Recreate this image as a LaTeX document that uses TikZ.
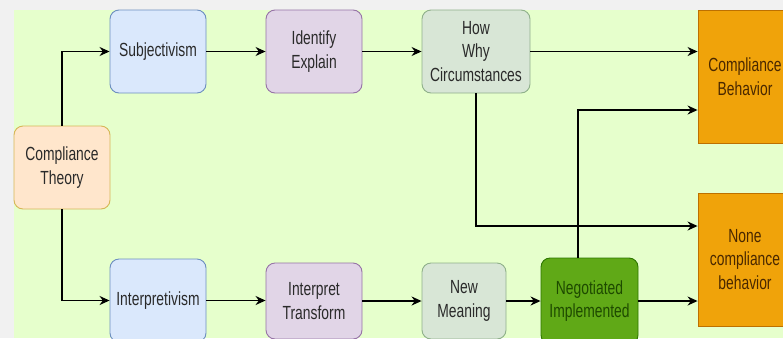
\documentclass[tikz,border=0pt]{standalone}
\usepackage{fontspec}
\setmainfont[FakeStretch=0.73]{Liberation Sans}
\usetikzlibrary{arrows.meta}
\definecolor{bggray}{HTML}{F1F1F1}
\definecolor{bggreen}{HTML}{E6FFCC}
\definecolor{thfill}{HTML}{FFE6CC}\definecolor{thdraw}{HTML}{D6B656}
\definecolor{blfill}{HTML}{DAE8FC}\definecolor{bldraw}{HTML}{6C8EBF}
\definecolor{pufill}{HTML}{E1D5E7}\definecolor{pudraw}{HTML}{9673A6}
\definecolor{gyfill}{HTML}{D8E6D6}\definecolor{gydraw}{HTML}{8FB08A}
\definecolor{gnfill}{HTML}{60A917}\definecolor{gndraw}{HTML}{2D7600}\definecolor{gntext}{HTML}{1E4A00}
\definecolor{orfill}{HTML}{F0A30A}\definecolor{ordraw}{HTML}{BD7000}\definecolor{ortext}{HTML}{4A2800}
\definecolor{txt}{HTML}{2A2A2A}
\tikzset{
  box/.style={draw, line width=0.9pt, rounded corners=9pt, align=center, inner sep=0pt,
    text=txt, font=\fontsize{19}{23.5}\selectfont},
  thbox/.style={box, fill=thfill, draw=thdraw},
  blbox/.style={box, fill=blfill, draw=bldraw},
  pubox/.style={box, fill=pufill, draw=pudraw},
  gybox/.style={box, fill=gyfill, draw=gydraw},
  gnbox/.style={box, fill=gnfill, draw=gndraw, text=gntext},
  orbox/.style={box, rounded corners=0pt, fill=orfill, draw=ordraw, text=ortext},
  arr/.style={line width=1.4pt, draw=black, -{Stealth[length=10pt,width=9pt]}}
}
\begin{document}
\begin{tikzpicture}[x=1pt,y=-1pt]
\clip (0,0) rectangle (783,338);
\fill[bggray] (0,0) rectangle (783,338);
\fill[bggreen] (14,10) rectangle (783,338);
% top row
\node[thbox, minimum width=96pt, minimum height=83pt] (theory) at (62,167.5) {Compliance\\Theory};
\node[blbox, minimum width=96pt, minimum height=83pt] (subj) at (158,51.5) {Subjectivism};
\node[pubox, minimum width=96pt, minimum height=83pt] (ident) at (314,51.5) {Identify\\Explain};
\node[gybox, minimum width=108pt, minimum height=83pt] (how) at (476,51.5) {How\\Why\\Circumstances};
\node[orbox, minimum width=94pt, minimum height=133pt] (cb) at (745,76.5) {Compliance\\Behavior};
% bottom row
\node[blbox, minimum width=96pt, minimum height=83pt] (interp) at (158,300.5) {Interpretivism};
\node[pubox, minimum width=96pt, minimum height=76pt] (intT) at (314,301) {Interpret\\Transform};
\node[gybox, minimum width=84pt, minimum height=76pt] (newm) at (464,301) {New\\Meaning};
\node[gnbox, minimum width=97pt, minimum height=86pt] (neg) at (589.5,301) {Negotiated\\Implemented};
\node[orbox, minimum width=94pt, minimum height=133pt] (none) at (745,259.5) {None\\compliance\\behavior};
% connectors
\draw[arr] (theory.north) |- (subj.west);
\draw[arr] (theory.south) |- (interp.west);
\draw[arr] (subj.east) -- (ident.west);
\draw[arr] (ident.east) -- (how.west);
\draw[arr] (how.east) -- (how.east -| cb.west);
\draw[arr] (how.south) |- ([yshift=33.5pt]none.west);
\draw[arr] ([xshift=-11.5pt]neg.north) |- ([yshift=-33.5pt]cb.west);
\draw[arr] (interp.east) -- (interp.east -| intT.west);
\draw[arr] (intT.east) -- (intT.east -| newm.west);
\draw[arr] (newm.east) -- (newm.east -| neg.west);
\draw[arr] (neg.east) -- (neg.east -| none.west);
\end{tikzpicture}
\end{document}
